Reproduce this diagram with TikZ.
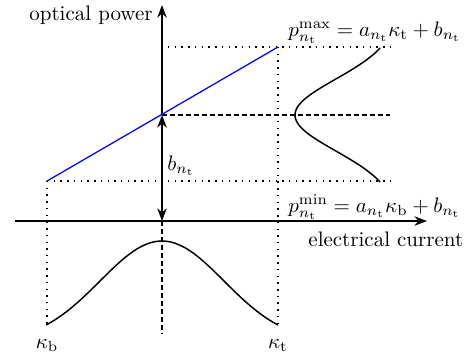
\documentclass[tikz,border=0pt]{standalone}
\usetikzlibrary{arrows.meta}
\begin{document}
\begin{tikzpicture}[x=0.476pt,y=-0.476pt,
  axis/.style={line width=0.8pt,-{Stealth[length=6pt,width=4.5pt]}},
  dotline/.style={line width=0.7pt,dash pattern=on 0.7pt off 2.5pt},
  dashline/.style={line width=0.7pt,dash pattern=on 2.4pt off 1.4pt},
  curve/.style={line width=0.7pt,smooth,samples=60},
  lbl/.style={inner sep=0pt}]
\useasboundingbox (0,0) rectangle (474,357);
% coordinates
\coordinate (O) at (162,221);
\coordinate (mid) at (162,115);
\coordinate (ytop) at (162,5);
\coordinate (xl) at (15,221);
\coordinate (xr) at (427,221);
\coordinate (lo) at (47,181);
\coordinate (hi) at (278,47);
\coordinate (topL) at (168,47);
\coordinate (topR) at (390,47);
\coordinate (botR) at (390,181);
\coordinate (midR) at (390,115);
\coordinate (kbB) at (47,325);
\coordinate (ktB) at (278,325);
\coordinate (cB) at (162,333);
% axes
\draw[axis] (xl) -- (xr);
\draw[axis] (mid) -- (ytop);
\draw[line width=0.8pt,{Stealth[length=6pt,width=4.5pt]}-{Stealth[length=6pt,width=4.5pt]}] (mid) -- (O);
% guide lines
\draw[dotline] (topL) -- (topR);
\draw[dotline] (lo) -- (botR);
\draw[dotline] (hi) -- (ktB);
\draw[dotline] (lo) -- (kbB);
\draw[dashline] (mid) -- (midR);
\draw[dashline] (O) -- (cB);
% blue line
\draw[blue,line width=0.6pt] (lo) -- (hi);
% curves
\draw[curve,domain=-1.87:1.87] plot ({295+103*(1-exp(-(\x)^2/2))},{115+35.8*\x});
\draw[curve,domain=-1.87:1.87] plot ({162+62*\x},{241+101.7*(1-exp(-(\x)^2/2))});
% labels
\node[lbl,anchor=base east] (lop) at (153,20) {optical power};
\node[lbl,anchor=base west] (lec) at (308,246) {electrical current};
\node[lbl,anchor=base west] (lmax) at (288,36) {$p_{n_\mathrm{t}}^{\max} = a_{n_\mathrm{t}}\kappa_\mathrm{t} + b_{n_\mathrm{t}}$};
\node[lbl,anchor=base west] (lmin) at (288,212) {$p_{n_\mathrm{t}}^{\min} = a_{n_\mathrm{t}}\kappa_\mathrm{b} + b_{n_\mathrm{t}}$};
\node[lbl,anchor=base west] (lb) at (167,170) {$b_{n_\mathrm{t}}$};
\node[lbl,anchor=base] (lkb) at (47,348) {$\kappa_\mathrm{b}$};
\node[lbl,anchor=base] (lkt) at (278,348) {$\kappa_\mathrm{t}$};
\end{tikzpicture}
\end{document}
